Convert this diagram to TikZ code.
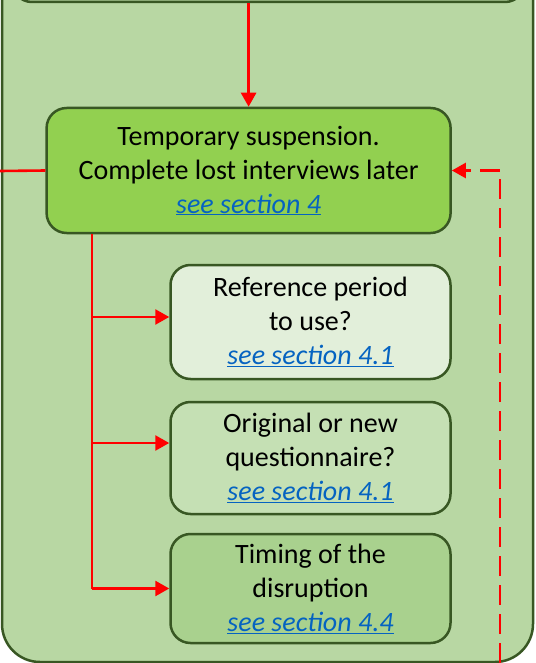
\documentclass[tikz,border=0pt]{standalone}
\usepackage{fontspec}
\setmainfont{Carlito}
\usetikzlibrary{arrows.meta}

\definecolor{framegreen}{RGB}{56,87,35}
\definecolor{panelgreen}{RGB}{184,215,163}
\definecolor{maingreen}{RGB}{146,208,80}
\definecolor{palegreen}{RGB}{226,239,218}
\definecolor{softgreen}{RGB}{197,224,180}
\definecolor{midgreen}{RGB}{169,209,142}
\definecolor{linkblue}{RGB}{5,99,193}

\newcommand{\seesec}[1]{{\color{linkblue}\itshape\underline{see section #1}}}

\tikzset{
  stepbox/.style={draw=framegreen, line width=2.5pt, rounded corners=20pt,
    align=center, inner sep=0pt, font=\fontsize{28}{34}\selectfont},
  redline/.style={red, line width=2.6pt},
  flow/.style={redline, -{Triangle[length=14pt,width=15pt]}},
}

\begin{document}
\begin{tikzpicture}[x=1pt,y=-1pt]
    \useasboundingbox (0,0) rectangle (535,663);
    \clip (0,0) rectangle (535,663);

    % Draw the outer panel
    \draw[framegreen, fill=panelgreen, line width=2.5pt, rounded corners=38pt]
      (2,-60) rectangle (533,662);

    % Draw the boxes
    \node[stepbox, fill=panelgreen, minimum width=513pt, minimum height=80pt] (prev) at (268.5,-38) {};
    \node[stepbox, fill=maingreen, minimum width=404pt, minimum height=125pt] (main) at (248.6,170.5)
      {Temporary suspension.\\Complete lost interviews later\\\seesec{4}};
    \node[stepbox, fill=palegreen, minimum width=280pt, minimum height=114pt] (refper) at (310.5,322)
      {Reference period\\to use?\\\seesec{4.1}};
    \node[stepbox, fill=softgreen, minimum width=280pt, minimum height=112pt] (quest) at (310.5,458)
      {Original or new\\questionnaire?\\\seesec{4.1}};
    \node[stepbox, fill=midgreen, minimum width=280pt, minimum height=109pt] (timing) at (310.5,588.5)
      {Timing of the\\disruption\\\seesec{4.4}};

    \coordinate (exit) at (0,171);
    \coordinate (loop) at (500,663);
    \coordinate (trunk) at (92,0);

    % Draw the arrows into and out of the main box
    \draw[flow] (main.north |- prev.south) -- (main.north);
    \draw[redline] (main.west) -- (exit);
    \draw[flow, dash pattern=on 20pt off 9pt] (loop) |- (main.east);

    % Draw the trunk and the branches
    \draw[redline] (main.south -| trunk) -- (timing.west -| trunk);
    \foreach \n/\dy in {refper/5, quest/15, timing/0}
      \draw[flow] ([yshift=\dy pt]\n.west -| trunk) -- ([yshift=\dy pt]\n.west);
  \end{tikzpicture}
\end{document}
